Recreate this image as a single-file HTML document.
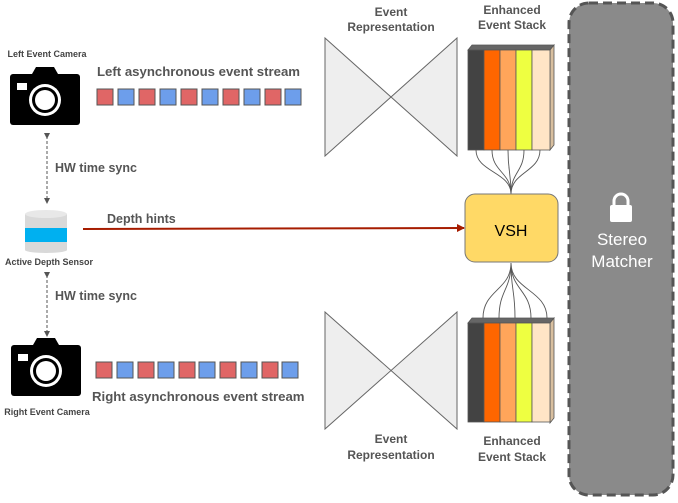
<!DOCTYPE html>
<html><head><style>
body{margin:0;width:678px;height:498px;background:#fff;overflow:hidden}
</style></head><body>
<svg width="678" height="498" xmlns="http://www.w3.org/2000/svg" font-family="Liberation Sans, sans-serif">
<defs>
<marker id="ar" markerWidth="8" markerHeight="8" refX="7" refY="4" orient="auto" markerUnits="userSpaceOnUse"><path d="M0,0 L8,4 L0,8z" fill="#a61c00"/></marker>
<marker id="sa" markerWidth="6" markerHeight="6" refX="3" refY="3" orient="auto" markerUnits="userSpaceOnUse"><path d="M0,0 L6,3 L0,6z" fill="#555"/></marker>
<g id="cam">
<path d="M22,7 l4,-7 h18 l4,7z" fill="#000"/>
<rect x="0" y="7" width="70" height="51" rx="3" fill="#000"/>
<rect x="7" y="16" width="10" height="7" fill="#fff"/>
<circle cx="35" cy="33" r="16" fill="#fff"/><circle cx="35" cy="33" r="13" fill="#000"/><circle cx="35" cy="33" r="10" fill="#fff"/>
</g>
</defs>
<!-- stereo matcher -->
<rect x="569" y="3" width="104" height="492" rx="20" fill="#8a8a8a" stroke="#555" stroke-width="3" stroke-dasharray="9,5"/>
<rect x="610" y="205" width="22" height="17" rx="2" fill="#fff"/>
<path d="M614,206 v-5 a7,7 0 0 1 14,0 v5" fill="none" stroke="#fff" stroke-width="3"/>
<text x="622" y="245" font-size="17" fill="#fff" text-anchor="middle">Stereo</text>
<text x="622" y="267" font-size="17" fill="#fff" text-anchor="middle">Matcher</text>
<!-- cameras -->
<use href="#cam" x="10" y="67"/>
<use href="#cam" x="11" y="338"/>
<text x="47" y="57" font-size="9" font-weight="bold" fill="#444" text-anchor="middle">Left Event Camera</text>
<text x="47" y="415" font-size="9" font-weight="bold" fill="#444" text-anchor="middle">Right Event Camera</text>
<text x="97" y="76" font-size="13.2" font-weight="bold" fill="#555">Left asynchronous event stream</text>
<text x="92" y="401" font-size="13.2" font-weight="bold" fill="#555">Right asynchronous event stream</text>
<g stroke="#555" stroke-width="1">
<rect x="97" y="89" width="16" height="16" fill="#e06666"/><rect x="118" y="89" width="16" height="16" fill="#6d9eeb"/>
<rect x="139" y="89" width="16" height="16" fill="#e06666"/><rect x="160" y="89" width="16" height="16" fill="#6d9eeb"/>
<rect x="181" y="89" width="16" height="16" fill="#e06666"/><rect x="202" y="89" width="16" height="16" fill="#6d9eeb"/>
<rect x="223" y="89" width="16" height="16" fill="#e06666"/><rect x="244" y="89" width="16" height="16" fill="#6d9eeb"/>
<rect x="265" y="89" width="16" height="16" fill="#e06666"/><rect x="285" y="89" width="16" height="16" fill="#6d9eeb"/>
<rect x="96" y="362" width="16" height="16" fill="#e06666"/><rect x="117" y="362" width="16" height="16" fill="#6d9eeb"/>
<rect x="138" y="362" width="16" height="16" fill="#e06666"/><rect x="158" y="362" width="16" height="16" fill="#6d9eeb"/>
<rect x="179" y="362" width="16" height="16" fill="#e06666"/><rect x="199" y="362" width="16" height="16" fill="#6d9eeb"/>
<rect x="220" y="362" width="16" height="16" fill="#e06666"/><rect x="241" y="362" width="16" height="16" fill="#6d9eeb"/>
<rect x="262" y="362" width="16" height="16" fill="#e06666"/><rect x="282" y="362" width="16" height="16" fill="#6d9eeb"/>
</g>
<!-- sync lines -->
<line x1="47" y1="136" x2="47" y2="201" stroke="#555" stroke-dasharray="3,2" marker-start="url(#sa)" marker-end="url(#sa)"/>
<line x1="47" y1="275" x2="47" y2="334" stroke="#555" stroke-dasharray="3,2" marker-start="url(#sa)" marker-end="url(#sa)"/>
<text x="55" y="172" font-size="12.5" font-weight="bold" fill="#555">HW time sync</text>
<text x="55" y="300" font-size="12.5" font-weight="bold" fill="#555">HW time sync</text>
<!-- cylinder -->
<rect x="25" y="214" width="42" height="36" fill="#d9d9d9"/>
<rect x="25" y="228" width="42" height="14" fill="#00b0f0"/>
<ellipse cx="46" cy="250" rx="21" ry="3" fill="#d9d9d9"/>
<ellipse cx="46" cy="214" rx="21" ry="4" fill="#e8e8e8"/>
<text x="49" y="265" font-size="9" font-weight="bold" fill="#444" text-anchor="middle">Active Depth Sensor</text>
<text x="107" y="223" font-size="12.5" font-weight="bold" fill="#555">Depth hints</text>
<line x1="83" y1="229" x2="464" y2="228" stroke="#a61c00" stroke-width="2" marker-end="url(#ar)"/>
<!-- bowties -->
<path d="M325,38 L457,156 L457,38 L325,156z" fill="#eee" stroke="#666"/>
<path d="M325,312 L457,429 L457,312 L325,429z" fill="#eee" stroke="#666"/>
<g font-size="12" font-weight="bold" fill="#555" text-anchor="middle">
<text x="391" y="16">Event</text><text x="391" y="31">Representation</text>
<text x="391" y="443">Event</text><text x="391" y="459">Representation</text>
<text x="512" y="14">Enhanced</text><text x="512" y="29">Event Stack</text>
<text x="512" y="445">Enhanced</text><text x="512" y="461">Event Stack</text>
</g>
<!-- stacks -->
<g stroke="#555" stroke-width="0.8">
<path d="M468,50 l4,-5 h82 l-4,5z" fill="#666"/>
<path d="M550,50 l4,-5 v100 l-4,5z" fill="#d8bf9f"/>
<rect x="468" y="50" width="16" height="100" fill="#434343"/>
<rect x="484" y="50" width="16" height="100" fill="#ff6600"/>
<rect x="500" y="50" width="16" height="100" fill="#ffa55a"/>
<rect x="516" y="50" width="16" height="100" fill="#eeff41"/>
<rect x="532" y="50" width="18" height="100" fill="#ffe5c6"/>
<path d="M468,323 l4,-5 h82 l-4,5z" fill="#666"/>
<path d="M550,323 l4,-5 v100 l-4,5z" fill="#d8bf9f"/>
<rect x="468" y="323" width="16" height="99" fill="#434343"/>
<rect x="484" y="323" width="16" height="99" fill="#ff6600"/>
<rect x="500" y="323" width="16" height="99" fill="#ffa55a"/>
<rect x="516" y="323" width="16" height="99" fill="#eeff41"/>
<rect x="532" y="323" width="18" height="99" fill="#ffe5c6"/>
</g>
<g fill="none" stroke="#555" stroke-width="0.9">
<path d="M476,150 C476,172 511,172 511,194"/><path d="M492,150 C492,172 511,172 511,194"/>
<path d="M508,150 C508,172 511,172 511,194"/><path d="M524,150 C524,172 511,172 511,194"/>
<path d="M540,150 C540,172 511,172 511,194"/>
<path d="M483,318 C483,290 511,290 511,263"/><path d="M499,318 C499,290 511,290 511,263"/>
<path d="M515,318 C515,290 511,290 511,263"/><path d="M531,318 C531,290 511,290 511,263"/>
<path d="M547,318 C547,290 511,290 511,263"/>
</g>
<rect x="465" y="194" width="93" height="68" rx="10" fill="#ffd966" stroke="#777"/>
<text x="511" y="236" font-size="16" fill="#000" text-anchor="middle">VSH</text>
</svg>
</body></html>
